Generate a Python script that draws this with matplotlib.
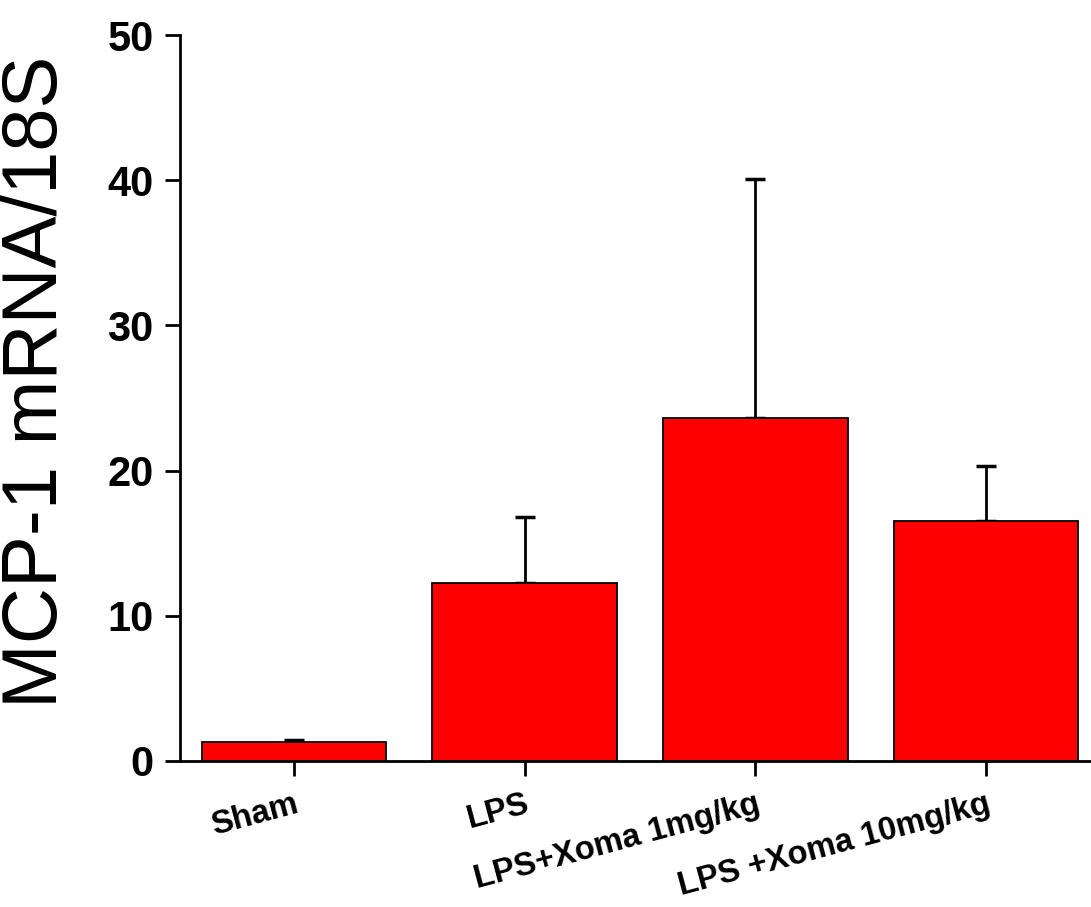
import numpy as np
import matplotlib.pyplot as plt

# group labels and values
groups = ["Sham", "LPS", "LPS+Xoma 1mg/kg", "LPS +Xoma 10mg/kg"]
means = [1.3, 12.25, 23.6, 16.5]
errors = [0.15, 4.55, 16.5, 3.8]

plt.rcParams['font.family'] = ['Liberation Sans', 'DejaVu Sans']

fig = plt.figure(figsize=(10.91, 9.07), dpi=100)
ax = fig.add_axes([0.165, 0.161, 0.835, 0.8004])

x = np.arange(len(groups))
ax.bar(x, means, width=0.8, color="#ff0000", edgecolor="black", linewidth=1.3, zorder=2)
ax.errorbar(x, means, yerr=[np.zeros(len(errors)), errors], fmt="none",
            ecolor="black", elinewidth=2, capsize=7, capthick=2.5, zorder=1)

ax.set_xlim(-0.494, 3.455)
ax.set_ylim(0, 50)
ax.set_yticks([0, 10, 20, 30, 40, 50])
ax.set_xticks(x)
ax.set_xticklabels(groups, rotation=15, ha="right", rotation_mode="anchor",
                   fontsize=23.5, fontweight="bold")
for lab in ax.get_yticklabels():
    lab.set_fontweight("bold")
ax.tick_params(axis="y", labelsize=30, length=11, width=2, direction="out", pad=8)
ax.tick_params(axis="x", length=11, width=2, direction="out", pad=9)

for side in ["top", "right"]:
    ax.spines[side].set_visible(False)
for side in ["left", "bottom"]:
    ax.spines[side].set_linewidth(2)

ax.set_ylabel("MCP-1 mRNA/18S", fontsize=56)
ax.yaxis.set_label_coords(-0.117, 0.522)

fig.savefig("out.png", dpi=100)
